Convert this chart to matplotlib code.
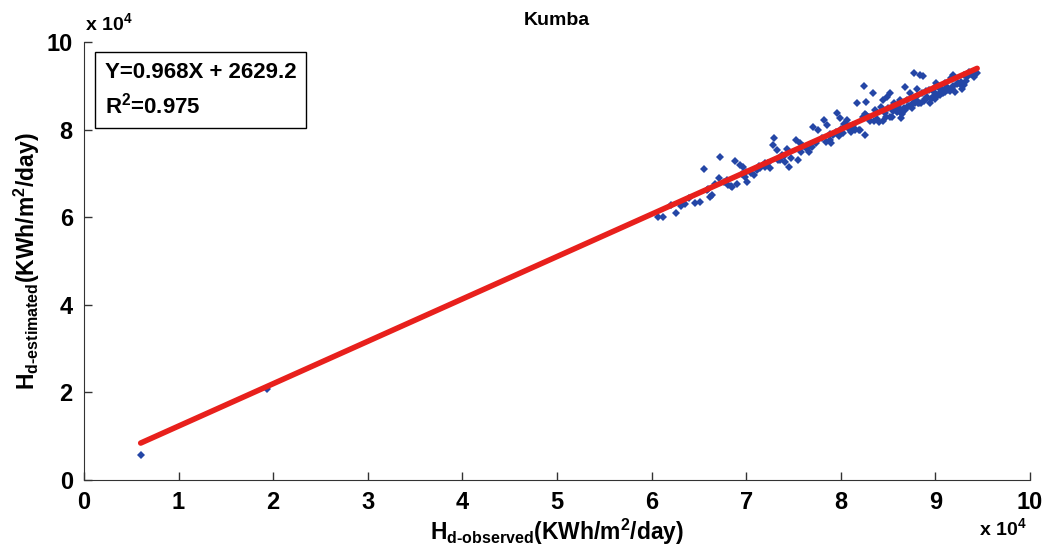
import matplotlib
matplotlib.use("Agg")
import matplotlib.pyplot as plt
import numpy as np

plt.rcParams['font.family'] = ['Liberation Sans Narrow', 'Liberation Sans', 'DejaVu Sans']
plt.rcParams['font.weight'] = 'bold'
plt.rcParams['mathtext.fontset'] = 'custom'
plt.rcParams['mathtext.rm'] = 'Liberation Sans:bold'
plt.rcParams['mathtext.bf'] = 'Liberation Sans:bold'
plt.rcParams['mathtext.it'] = 'Liberation Sans:bold'

# observed / estimated values, units of 1e4 KWh/m2/day
obs = [0.60, 1.94,
       6.07, 6.12, 6.26, 6.31, 6.46, 6.51, 6.55, 6.62, 6.64, 6.67, 6.72, 6.71, 6.81, 6.85,
       6.88, 6.90, 6.93, 6.97, 7.01, 6.99, 7.08, 7.11, 7.15, 7.20, 7.23, 7.29, 7.28, 7.32,
       7.36, 7.38, 7.41, 7.45, 7.43, 7.53, 7.55, 7.57, 7.64, 7.71, 7.76, 7.82, 7.85, 7.89,
       7.92, 7.96, 7.99, 8.03, 8.06, 8.08, 8.13, 8.17, 8.20, 8.24, 8.26, 8.27, 8.27, 8.34,
       8.36, 8.40, 8.42, 8.45, 8.49, 8.52, 8.54, 8.56, 8.59, 8.61, 8.63, 8.64, 8.66, 8.68,
       8.70, 8.73, 8.77, 8.79, 8.80, 8.82, 8.84, 8.86, 8.87, 8.89, 8.93, 8.94, 8.98, 9.00,
       9.01, 9.05, 9.08, 9.12, 9.16, 9.19, 9.21, 9.24, 9.28, 9.30, 9.33, 9.44,
       6.20, 6.40, 6.60, 6.80, 7.00, 7.20, 7.40, 7.60, 7.80, 8.00, 8.10, 8.30, 8.50, 8.60,
       8.70, 8.80, 8.90, 9.00, 9.10, 9.20, 9.30, 9.35,
       8.62, 8.75, 8.85, 8.95, 9.05, 9.15, 8.52, 8.68, 8.44, 7.95, 8.15, 7.70, 8.90, 9.10,
       6.35, 6.58, 6.76, 6.84, 6.95, 7.05, 7.13, 7.25, 7.34, 7.47, 7.58, 7.66, 7.74, 7.84,
       7.90, 7.98, 8.05, 8.11, 8.19, 8.23, 8.31, 8.38, 8.47, 8.55, 8.58, 8.65, 8.72, 8.76,
       8.83, 8.91, 8.96, 9.03, 9.07, 9.13, 9.18, 9.23, 9.27, 9.32, 9.38, 9.41,
       8.25, 8.35, 8.48, 8.57, 8.67, 8.78, 8.88, 8.97, 9.06, 9.17, 9.26, 7.88, 8.02, 8.14]
est = [0.57, 2.07,
       6.01, 6.00, 6.10, 6.26, 6.33, 6.36, 7.10, 6.47, 6.51, 6.76, 7.38, 6.89, 6.74, 6.70,
       7.29, 6.77, 7.19, 7.15, 6.81, 6.93, 6.96, 7.08, 7.12, 7.15, 7.23, 7.82, 7.65, 7.53,
       7.31, 7.42, 7.27, 7.15, 7.57, 7.76, 7.31, 7.69, 7.55, 8.07, 7.99, 8.22, 8.11, 7.76,
       7.88, 8.37, 8.26, 8.14, 8.22, 8.03, 8.10, 8.60, 7.99, 8.99, 7.88, 8.64, 8.33, 8.83,
       8.45, 8.18, 8.52, 8.68, 8.75, 8.83, 8.30, 8.60, 8.41, 8.49, 8.68, 8.26, 8.45, 8.98,
       8.52, 8.83, 9.30, 8.68, 8.94, 8.60, 9.25, 8.83, 9.22, 8.71, 8.90, 8.60, 8.87, 8.71,
       9.06, 8.94, 8.83, 8.98, 9.17, 9.25, 8.87, 9.06, 8.94, 9.02, 9.21, 9.30,
       6.27, 6.45, 6.64, 6.85, 7.03, 7.25, 7.40, 7.62, 7.80, 8.02, 8.08, 8.30, 8.50, 8.57,
       8.68, 8.78, 8.88, 8.98, 9.07, 9.17, 9.26, 9.32,
       8.40, 8.50, 8.62, 8.70, 8.80, 8.88, 8.30, 8.45, 8.20, 7.95, 8.00, 7.60, 8.70, 8.85,
       6.30, 6.62, 6.80, 6.72, 6.98, 7.00, 7.18, 7.12, 7.30, 7.36, 7.48, 7.50, 7.70, 7.72,
       7.70, 7.85, 8.12, 7.95, 8.00, 8.28, 8.20, 8.25, 8.38, 8.42, 8.56, 8.35, 8.55, 8.62,
       8.60, 8.75, 8.72, 8.80, 8.92, 8.90, 9.00, 9.05, 9.10, 9.12, 9.28, 9.20,
       8.35, 8.20, 8.28, 8.52, 8.50, 8.62, 8.65, 8.75, 8.85, 8.95, 9.05, 7.90, 7.92, 8.05]

slope = 0.968
intercept = 2629.2
r2 = 0.975

obs = np.array(obs) * 1e4
est = np.array(est) * 1e4

fig = plt.figure(figsize=(10.49, 5.47), dpi=100)
ax = fig.add_axes([0.080, 0.1225, 0.902, 0.8005])

ax.plot(obs, est, 'D', color='#2446a6', markersize=4.2, markeredgewidth=0)
xl = np.array([obs.min(), obs.max()])
ax.plot(xl, slope * xl + intercept, color='#e8201c', linewidth=4, solid_capstyle='round')

ax.set_xlim(0, 1e5)
ax.set_ylim(0, 1e5)
ax.set_xticks(np.arange(0, 10.1, 1) * 1e4)
ax.set_yticks(np.arange(0, 10.1, 2) * 1e4)
ax.set_xticklabels([str(i) for i in range(0, 11)])
ax.set_yticklabels([str(i) for i in range(0, 11, 2)])
ax.tick_params(direction='in', length=6, width=1, colors='#333333', labelcolor='black',
               labelsize=17, pad=8)
for lbl in ax.get_xticklabels() + ax.get_yticklabels():
    lbl.set_fontweight('bold')
ax.spines['top'].set_visible(False)
ax.spines['right'].set_visible(False)
ax.spines['left'].set_color('#333333')
ax.spines['bottom'].set_color('#333333')

ax.set_title('Kumba', fontsize=14, fontweight='bold', pad=12)
fig.text(0.081, 0.945, r'x 10$^{4}$', fontsize=14, fontweight='bold')
fig.text(0.933, 0.022, r'x 10$^{4}$', fontsize=14, fontweight='bold')

ax.set_xlabel(r'$\mathbf{H}_{\mathrm{d\text{-}observed}}$(KWh/m$^{2}$/day)', fontsize=16.5,
              fontweight='bold', labelpad=2)
ax.set_ylabel(r'$\mathbf{H}_{\mathrm{d\text{-}estimated}}$(KWh/m$^{2}$/day)', fontsize=16.5,
              fontweight='bold', labelpad=3)

ax.text(0.022, 0.955, 'Y=%.3fX + %.1f\nR$^{2}$=%.3f' % (slope, intercept, r2),
        transform=ax.transAxes, va='top', ha='left', fontsize=16, fontweight='bold',
        linespacing=1.45,
        bbox=dict(boxstyle='square,pad=0.45', facecolor='white', edgecolor='black', linewidth=1))

fig.savefig('out.png', dpi=100)
